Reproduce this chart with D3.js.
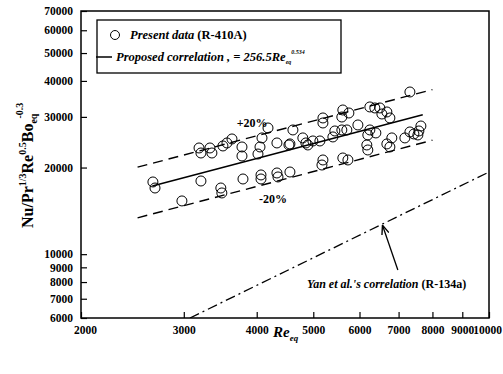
<!DOCTYPE html>
<html><head><meta charset="utf-8">
<script src="https://cdn.jsdelivr.net/npm/d3@7"></script>
<style>
body{margin:0;background:#fff;}
text{font-family:"Liberation Serif","Times New Roman",serif;font-weight:bold;fill:#000;}
</style></head>
<body><svg id="c" width="503" height="374"></svg>
<script>
// ---- data ----
const reEq = [2656,2678,2978,3210,3472,3486,3789,4068,4068,4332,4350,4560,
  3186,3210,3326,3352,3501,3557,3628,3774,3774,4084,4052,4020,4182,4332,4542,4614,4798,4894,4560,
  7320,5194,5194,5618,5596,5754,6250,6374,6502,6554,6684,6764,
  4856,4992,5132,5402,5444,5596,5708,5962,6200,6250,6400,6816,6684,6176,6200,7176,7320,7436,7584,7644,7554,
  5194,5174,5618,5732,6764];
const nuVal = [17820,16980,15310,17960,16980,16320,18250,18850,18250,19150,18550,19300,
  23390,22470,23390,22470,23770,24350,25140,23580,21940,25350,23580,22290,27450,24350,23960,27020,25350,23960,24160,
  36610,29740,28570,31700,29970,30950,32480,32220,32220,30700,31200,29740,
  24350,24740,24740,25550,26800,27020,27020,28120,25960,27020,26380,25350,24160,23960,23020,25350,26590,26170,26800,27890,25960,
  21250,20410,21590,21250,23580];
const corrRe = [2650, 7700];          // proposed correlation endpoints
const corrVal = [17260, 30500];
const bandRe = [2500, 8000];          // +/-20% lines
const upperVal = [20060, 37330];
const lowerVal = [13373, 24890];
const yanRe = [3074, 10000];          // Yan et al. correlation
const yanVal = [6000, 19300];
const xTicks = [2000,3000,4000,5000,6000,7000,8000,9000,10000];
const yTicks = [6000,7000,8000,9000,10000,20000,30000,40000,50000,60000,70000];

// ---- chart ----
const svg = d3.select("#c");
const L=81,R=489,T=11,B=318;
const x = d3.scaleLog().domain([2000,10000]).range([L,R]);
const y = d3.scaleLog().domain([6000,70000]).range([B,T]);

svg.append("defs").append("clipPath").attr("id","pc")
  .append("rect").attr("x",L).attr("y",T).attr("width",R-L).attr("height",B-T);

const xa = svg.append("g").attr("transform",`translate(0,${B})`)
  .call(d3.axisBottom(x).tickValues(xTicks).tickFormat(d3.format("d")).tickSize(-6).tickPadding(8));
const ya = svg.append("g").attr("transform",`translate(${L},0)`)
  .call(d3.axisLeft(y).tickValues(yTicks).tickFormat(d3.format("d")).tickSize(-6).tickPadding(8));
[xa,ya].forEach(a=>{
  a.select(".domain").remove();
  a.selectAll("line").attr("stroke","#000").attr("stroke-width",1.2);
  a.selectAll("text").style("font-family","Liberation Serif").style("font-weight","bold").style("font-size","11.5px").attr("fill","#000");
});
xa.selectAll("text").attr("dx", d => d===2000 ? 4 : (d===10000 ? -2 : 0));

svg.append("rect").attr("x",L).attr("y",T).attr("width",R-L).attr("height",B-T)
  .attr("fill","none").attr("stroke","#000").attr("stroke-width",1.5);

const line = d3.line().x(d=>x(d[0])).y(d=>y(d[1]));
const g = svg.append("g").attr("clip-path","url(#pc)");
g.append("path").attr("d",line(d3.zip(corrRe,corrVal))).attr("stroke","#000").attr("stroke-width",1.5).attr("fill","none");
g.append("path").attr("d",line(d3.zip(bandRe,upperVal))).attr("stroke","#000").attr("stroke-width",1.4).attr("stroke-dasharray","10,6").attr("fill","none");
g.append("path").attr("d",line(d3.zip(bandRe,lowerVal))).attr("stroke","#000").attr("stroke-width",1.4).attr("stroke-dasharray","10,6").attr("fill","none");
g.append("path").attr("d",line(d3.zip(yanRe,yanVal))).attr("stroke","#000").attr("stroke-width",1.3).attr("stroke-dasharray","10,4,2,4").attr("fill","none");

g.selectAll("circle.pt").data(d3.zip(reEq,nuVal)).join("circle").attr("class","pt")
  .attr("cx",d=>x(d[0])).attr("cy",d=>y(d[1])).attr("r",5)
  .attr("fill","none").attr("stroke","#000").attr("stroke-width",1);

// annotations
svg.append("text").attr("x",x(4000)-20).attr("y",y(27600)).style("font-size","12px").text("+20%");
svg.append("text").attr("x",x(4100)-4).attr("y",y(15000)).style("font-size","12px").text("-20%");

svg.append("defs").append("marker").attr("id","ah").attr("viewBox","0 0 10 10").attr("refX",9).attr("refY",5)
  .attr("markerWidth",7).attr("markerHeight",7).attr("orient","auto")
  .append("path").attr("d","M0,1 L10,5 L0,9").attr("fill","none").attr("stroke","#000").attr("stroke-width",1.5);
svg.append("line").attr("x1",x(6980)).attr("y1",y(8815)).attr("x2",x(6576)).attr("y2",y(12630)+1)
  .attr("stroke","#000").attr("stroke-width",1.3).attr("marker-end","url(#ah)");
const yt = svg.append("text").attr("x",x(4876)).attr("y",y(7628)).style("font-size","12px");
yt.append("tspan").style("font-style","italic").text("Yan et al.'s correlation ");
yt.append("tspan").text("(R-134a)");

// legend
svg.append("rect").attr("x",97).attr("y",20).attr("width",244).attr("height",53)
  .attr("fill","#fff").attr("stroke","#000").attr("stroke-width",1.3);
svg.append("circle").attr("cx",115).attr("cy",35).attr("r",4.5).attr("fill","none").attr("stroke","#000");
const l1 = svg.append("text").attr("x",130).attr("y",39).style("font-size","12.5px");
l1.append("tspan").style("font-style","italic").text("Present data ");
l1.append("tspan").text("(R-410A)");
svg.append("line").attr("x1",96).attr("x2",112).attr("y1",57).attr("y2",57).attr("stroke","#000").attr("stroke-width",1.5);
const l2 = svg.append("text").attr("x",116).attr("y",61).style("font-size","12.5px").style("font-style","italic");
l2.append("tspan").text("Proposed correlation , = 256.5");
l2.append("tspan").text("Re");
l2.append("tspan").attr("dy",3).style("font-size","6px").text("eq");
l2.append("tspan").attr("dy",-10).attr("dx",0).style("font-size","6px").text("0.534");

// axis titles
const xt = svg.append("text").attr("x",273).attr("y",337).style("font-size","15px").style("font-style","italic");
xt.append("tspan").text("Re");
xt.append("tspan").attr("dy",4).style("font-size","9px").text("eq");

const ytl = svg.append("text").attr("transform","translate(33,228) rotate(-90)").style("font-size","16px");
ytl.append("tspan").text("Nu/Pr");
ytl.append("tspan").attr("dy",-7).style("font-size","10px").text("1/3");
ytl.append("tspan").attr("dy",7).text("Re");
ytl.append("tspan").attr("dy",-7).style("font-size","10px").text("0.5");
ytl.append("tspan").attr("dy",7).text("Bo");
ytl.append("tspan").attr("dy",4).style("font-size","10px").text("eq");
ytl.append("tspan").attr("dy",-14).attr("dx",-5).style("font-size","10px").text("-0.3");
</script></body></html>
